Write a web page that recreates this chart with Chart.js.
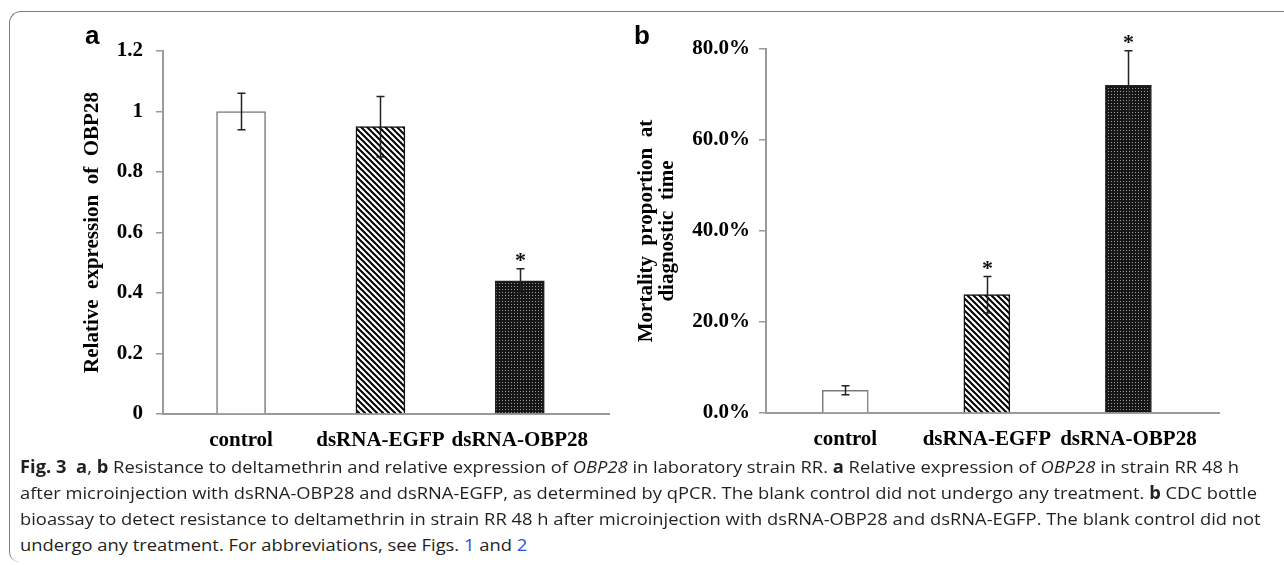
<!DOCTYPE html>
<html>
<head>
<meta charset="utf-8">
<script src="https://cdn.jsdelivr.net/npm/chart.js@4.4.0/dist/chart.umd.min.js"></script>
<style>
    html, body { margin: 0; padding: 0; background: #fff; }
    body { width: 1284px; height: 565px; position: relative; overflow: hidden; }
    .frame {
        position: absolute; left: 9px; top: 11px; width: 1300px; height: 550px;
        border-left: 1.5px solid #7d7d7d; border-top: 1.5px solid #7d7d7d;
        border-top-left-radius: 12px; border-bottom-left-radius: 10px;
    }
    canvas { position: absolute; top: 0; }
    #chartA { left: 0; }
    #chartB { left: 630px; }
    .panel { position: absolute; font: bold 26px "Liberation Sans", Arial, sans-serif; line-height: 1; color: #000; }
    .cap {
        position: absolute; left: 20px; white-space: nowrap; transform-origin: 0 50%;
        font: 17px "Open Sans", sans-serif; line-height: 26px; color: #231f20;
    }
    .cap a { color: #2a4fd6; text-decoration: none; }
</style>
</head>
<body>
<div class="frame"></div>
<canvas id="chartA" width="630" height="460"></canvas>
<canvas id="chartB" width="654" height="460"></canvas>
<div class="panel" style="left:85px; top:22px;">a</div>
<div class="panel" style="left:634px; top:22px;">b</div>

<div class="cap" style="top:454px;"><b>Fig. 3</b>&nbsp; <b>a</b>, <b>b</b> Resistance to deltamethrin and relative expression of <i>OBP28</i> in laboratory strain RR. <b>a</b> Relative expression of <i>OBP28</i> in strain RR 48 h</div>
<div class="cap" style="top:480px;">after microinjection with dsRNA-OBP28 and dsRNA-EGFP, as determined by qPCR. The blank control did not undergo any treatment. <b>b</b> CDC bottle</div>
<div class="cap" style="top:506px;">bioassay to detect resistance to deltamethrin in strain RR 48 h after microinjection with dsRNA-OBP28 and dsRNA-EGFP. The blank control did not</div>
<div class="cap" style="top:532px;">undergo any treatment. For abbreviations, see Figs. <a>1</a> and <a>2</a></div>

<script>
const categories = ['control', 'dsRNA-EGFP', 'dsRNA-OBP28'];

// a: relative expression of OBP28
const expression = [1.0, 0.95, 0.44];
const expressionErr = [0.06, 0.10, 0.04];
const expressionStar = [false, false, true];
const expressionTicks = ['0', '0.2', '0.4', '0.6', '0.8', '1', '1.2'];

// b: mortality proportion (%)
const mortality = [5, 26, 72];
const mortalityErr = [1, 4, 7.6];
const mortalityStar = [false, true, true];
const mortalityTicks = ['0.0%', '20.0%', '40.0%', '60.0%', '80.0%'];

const serif = '"Liberation Serif", "Times New Roman", serif';
const axisGray = '#9a9a9a';

function stripePattern() {
    const c = document.createElement('canvas');
    c.width = 6; c.height = 6;
    const g = c.getContext('2d');
    g.fillStyle = '#fff';
    g.fillRect(0, 0, 6, 6);
    g.strokeStyle = '#000';
    g.lineWidth = 2;
    [-6, 0, 6].forEach(k => {
        g.beginPath();
        g.moveTo(k - 1, -1);
        g.lineTo(k + 7, 7);
        g.stroke();
    });
    return g.createPattern(c, 'repeat');
}

function dotPattern() {
    const c = document.createElement('canvas');
    c.width = 3; c.height = 3;
    const g = c.getContext('2d');
    g.fillStyle = '#161616';
    g.fillRect(0, 0, 3, 3);
    g.fillStyle = '#9a9a9a';
    g.fillRect(1, 1, 1, 1);
    return g.createPattern(c, 'repeat');
}

// error bars + significance stars
const errorBars = {
    id: 'errorBars',
    afterDatasetsDraw(chart, args, opts) {
        const { ctx, scales: { x, y } } = chart;
        const points = chart.data.datasets[0].data;
        ctx.save();
        ctx.strokeStyle = '#222';
        ctx.lineWidth = 1.5;
        points.forEach((p, i) => {
            const px = Math.round(x.getPixelForValue(p.x)) + 0.5;
            const top = y.getPixelForValue(p.y + opts.err[i]);
            const bot = y.getPixelForValue(p.y - opts.err[i]);
            ctx.beginPath();
            ctx.moveTo(px, top); ctx.lineTo(px, bot);
            ctx.moveTo(px - 4, top); ctx.lineTo(px + 4, top);
            ctx.moveTo(px - 4, bot); ctx.lineTo(px + 4, bot);
            ctx.stroke();
            if (opts.star[i]) {
                ctx.fillStyle = '#111';
                ctx.font = 'bold 22px ' + serif;
                ctx.textAlign = 'center';
                ctx.textBaseline = 'alphabetic';
                ctx.fillText('*', px, top - 2);
            }
        });
        ctx.restore();
    }
};

function makeChart(id, cfg) {
    const ctx = document.getElementById(id).getContext('2d');
    return new Chart(ctx, {
        type: 'bar',
        data: {
            datasets: [{
                data: categories.map((c, i) => ({ x: i, y: cfg.values[i] })),
                backgroundColor: ['#ffffff', stripePattern(), dotPattern()],
                borderColor: ['#7a7a7a', '#111', '#222'],
                borderWidth: 1.5,
                barThickness: cfg.barWidth
            }]
        },
        options: {
            responsive: false,
            animation: false,
            layout: { padding: cfg.padding },
            plugins: {
                legend: { display: false },
                tooltip: { enabled: false },
                errorBars: { err: cfg.err, star: cfg.star }
            },
            scales: {
                x: {
                    type: 'linear',
                    offset: false,
                    min: -0.56,
                    max: 2.64,
                    afterFit: s => { s.height = cfg.xHeight; },
                    grid: { display: true, drawOnChartArea: false, drawTicks: false },
                    border: { display: true, color: axisGray, width: 2 },
                    ticks: {
                        stepSize: 1,
                        includeBounds: false,
                        autoSkip: false,
                        maxRotation: 0,
                        padding: 14,
                        color: '#000',
                        font: { family: serif, size: 21, weight: 'bold' },
                        callback: v => (Number.isInteger(v) ? categories[v] : '')
                    }
                },
                y: {
                    min: 0,
                    max: cfg.max,
                    afterFit: s => { s.width = cfg.yWidth; },
                    grid: { drawOnChartArea: false, drawTicks: true, tickLength: 7, color: axisGray, lineWidth: 1.5 },
                    border: { display: true, color: axisGray, width: 2 },
                    ticks: {
                        stepSize: cfg.step,
                        padding: cfg.tickPad,
                        color: '#000',
                        font: { family: serif, size: 21, weight: 'bold' },
                        callback: (v, i) => cfg.tickLabels[i]
                    },
                    title: {
                        display: true,
                        text: cfg.title,
                        color: '#000',
                        padding: { top: cfg.titlePad, bottom: 0 },
                        font: { family: serif, size: 21, weight: 'bold', lineHeight: cfg.titleLine }
                    }
                }
            }
        },
        plugins: [errorBars]
    });
}

makeChart('chartA', {
    values: expression, err: expressionErr, star: expressionStar,
    max: 1.2, step: 0.2, tickLabels: expressionTicks,
    title: 'Relative  expression  of  OBP28', titlePad: 80, titleLine: 1.2,
    padding: { left: 0, top: 51, right: 21, bottom: 0 },
    yWidth: 163, xHeight: 46, tickPad: 13, barWidth: 49
});

makeChart('chartB', {
    values: mortality, err: mortalityErr, star: mortalityStar,
    max: 80, step: 20, tickLabels: mortalityTicks,
    title: ['Mortality  proportion  at', 'diagnostic  time'], titlePad: 6, titleLine: 1.0,
    padding: { left: 0, top: 49, right: 65, bottom: 0 },
    yWidth: 136, xHeight: 47, tickPad: 9, barWidth: 46
});

// squeeze the caption lines to the reference width
const capLines = document.querySelectorAll('.cap');
const k = 1237 / capLines[1].scrollWidth;
capLines.forEach(el => { el.style.transform = 'scaleX(' + k + ')'; });
</script>
</body>
</html>
